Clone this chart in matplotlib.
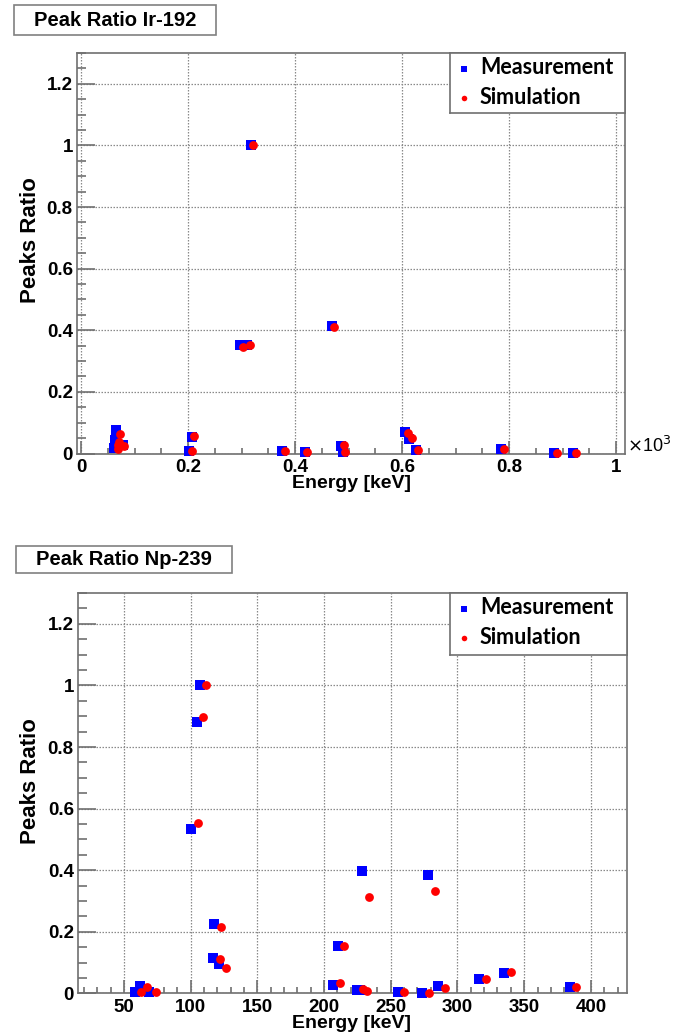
import matplotlib
matplotlib.use("Agg")
import matplotlib.pyplot as plt
from matplotlib.ticker import MultipleLocator, FuncFormatter
from matplotlib.patches import Rectangle
from matplotlib import font_manager

# ---------------- data ----------------
# Ir-192 (energy in 10^3 keV)
ir_meas_E = [0.066, 0.064, 0.062, 0.079, 0.2025, 0.207, 0.297, 0.310, 0.317, 0.375, 0.419,
             0.4685, 0.486, 0.489, 0.6056, 0.6137, 0.626, 0.785, 0.885, 0.920]
ir_meas_R = [0.076, 0.044, 0.017, 0.028, 0.008, 0.055, 0.351, 0.353, 1.000, 0.008, 0.005,
             0.415, 0.024, 0.004, 0.069, 0.046, 0.010, 0.015, 0.003, 0.003]
ir_sim_E = [0.073, 0.071, 0.070, 0.069, 0.081, 0.207, 0.212, 0.302, 0.315, 0.322, 0.381, 0.423,
            0.4735, 0.491, 0.494, 0.6105, 0.618, 0.630, 0.790, 0.8905, 0.925]
ir_sim_R = [0.062, 0.038, 0.028, 0.015, 0.024, 0.008, 0.058, 0.347, 0.352, 1.000, 0.008, 0.005,
            0.409, 0.026, 0.004, 0.068, 0.049, 0.010, 0.015, 0.003, 0.003]

# Np-239 (energy in keV)
np_meas_E = [58.2, 62.0, 68.7, 100.2, 104.5, 107.0, 116.7, 117.7, 121.2, 206.7, 210.2, 224.4,
             227.0, 228.6, 255.2, 273.4, 277.9, 285.7, 316.1, 334.7, 384.1]
np_meas_R = [0.004, 0.024, 0.004, 0.534, 0.880, 1.000, 0.114, 0.224, 0.094, 0.026, 0.153, 0.011,
             0.011, 0.397, 0.004, 0.002, 0.386, 0.023, 0.046, 0.066, 0.020]
np_sim_E = [62.7, 67.5, 73.8, 105.2, 109.5, 111.5, 122.0, 122.7, 126.2, 211.7, 215.1, 229.0,
            232.0, 233.6, 259.9, 278.4, 282.9, 290.9, 321.1, 339.8, 389.1]
np_sim_R = [0.004, 0.021, 0.004, 0.552, 0.897, 1.000, 0.111, 0.215, 0.082, 0.034, 0.155, 0.014,
            0.009, 0.314, 0.004, 0.002, 0.332, 0.018, 0.047, 0.070, 0.022]

titles = ["Peak Ratio Ir-192", "Peak Ratio Np-239"]
xlabel = "Energy [keV]"
ylabel = "Peaks Ratio"
legend_labels = ["Measurement", "Simulation"]

# ---------------- style ----------------
W, H = 683, 1034
fig = plt.figure(figsize=(W / 100, H / 100), dpi=100)

avail = {f.name for f in font_manager.fontManager.ttflist}
narrow = "Liberation Sans Narrow" if "Liberation Sans Narrow" in avail else "Liberation Sans"
tick_font = "Liberation Sans"
leg_font = "Lato"

frame_col = "#707070"
grid_col = "#8a8a8a"


def px_axes(l, t, r, b):
    return [l / W, 1 - b / H, (r - l) / W, (b - t) / H]


def style_axes(ax, xmaj, xmin_, ymaj=0.2, ymin_=0.05):
    for s in ax.spines.values():
        s.set_color(frame_col)
        s.set_linewidth(1.2)
    ax.xaxis.set_major_locator(MultipleLocator(xmaj))
    ax.xaxis.set_minor_locator(MultipleLocator(xmin_))
    ax.yaxis.set_major_locator(MultipleLocator(ymaj))
    ax.yaxis.set_minor_locator(MultipleLocator(ymin_))
    ax.tick_params(axis="both", which="both", direction="in", colors=frame_col,
                   top=False, right=False, width=1.2)
    ax.tick_params(axis="y", which="major", length=13)
    ax.tick_params(axis="y", which="minor", length=6.5)
    ax.tick_params(axis="x", which="major", length=9.5)
    ax.tick_params(axis="x", which="minor", length=4.5)
    ax.tick_params(axis="both", which="major", labelcolor="black", labelsize=13.5)
    ax.tick_params(axis="x", pad=4)
    ax.tick_params(axis="y", pad=3)
    ax.grid(True, which="major", color=grid_col, linestyle=(0, (1.2, 1.2)), linewidth=0.9)
    ax.set_axisbelow(True)


def fmt(v, pos):
    s = ("%.1f" % v).rstrip("0").rstrip(".")
    if s in ("-0",):
        s = "0"
    return s


def draw_panel(rect, mE, mR, sE, sR, xlim, xmaj, xmin_, title_box, title, leg_box, xfmt):
    ax = fig.add_axes(px_axes(*rect))
    ax.scatter(mE, mR, marker="s", s=42, color="#0000ff", linewidths=0, zorder=3,
               label=legend_labels[0], clip_on=False)
    ax.scatter(sE, sR, marker="o", s=40, color="#ff0000", linewidths=0, zorder=4,
               label=legend_labels[1], clip_on=False)
    ax.set_xlim(*xlim)
    ax.set_ylim(0, 1.3)
    style_axes(ax, xmaj, xmin_)
    ax.xaxis.set_major_formatter(FuncFormatter(xfmt))
    ax.yaxis.set_major_formatter(FuncFormatter(fmt))
    for lab in ax.get_xticklabels() + ax.get_yticklabels():
        lab.set_fontfamily(tick_font)
        lab.set_fontweight("bold")

    # legend box
    l, t, r, b = leg_box
    lax = fig.add_axes(px_axes(l, t, r, b))
    lax.set_xlim(l, r)
    lax.set_ylim(b, t)
    lax.set_xticks([])
    lax.set_yticks([])
    lax.set_facecolor("white")
    for s in lax.spines.values():
        s.set_color(frame_col)
        s.set_linewidth(1.2)
    lax.scatter([l + 14], [t + 16], marker="s", s=22, color="#0000ff", linewidths=0)
    lax.scatter([l + 14], [t + 45], marker="o", s=16, color="#ff0000", linewidths=0)
    lax.text(l + 30, t + 15, legend_labels[0], fontsize=15.5, fontweight="bold",
             family=leg_font, va="center", ha="left")
    lax.text(l + 30, t + 45, legend_labels[1], fontsize=15.5, fontweight="bold",
             family=leg_font, va="center", ha="left")

    # title box
    l, t, r, b = title_box
    fig.patches.append(Rectangle((l / W, 1 - b / H), (r - l) / W, (b - t) / H,
                                 transform=fig.transFigure, facecolor="white",
                                 edgecolor="#808080", linewidth=1.2))
    fig.text((l + r) / 2 / W, 1 - (t + b) / 2 / H, title, ha="center", va="center",
             fontsize=14.5, fontweight="bold", family=narrow)
    return ax


ax1 = draw_panel((77, 53, 625, 453.5), ir_meas_E, ir_meas_R, ir_sim_E, ir_sim_R,
                 (-0.0075, 1.0168), 0.2, 0.05, (14, 5, 216, 35), titles[0],
                 (450, 53, 625, 113), fmt)
ax2 = draw_panel((78, 593, 627, 993.4), np_meas_E, np_meas_R, np_sim_E, np_sim_R,
                 (15.5, 427.1), 50, 10, (16, 546, 232, 573), titles[1],
                 (450, 593, 627, 655), lambda v, p: "%d" % round(v))

# axis labels
fig.text(352 / W, 1 - 484 / H, xlabel, ha="center", va="center", fontsize=14,
         fontweight="bold", family=tick_font)
fig.text(352 / W, 1 - 1024 / H, xlabel, ha="center", va="center", fontsize=14,
         fontweight="bold", family=tick_font)
fig.text(31 / W, 1 - 240 / H, ylabel, ha="center", va="center", rotation=90,
         fontsize=16, fontweight="bold", family=tick_font)
fig.text(31 / W, 1 - 781 / H, ylabel, ha="center", va="center", rotation=90,
         fontsize=16, fontweight="bold", family=tick_font)

# x10^3 multiplier
fig.text(627 / W, 1 - 446 / H, r"$\times$10$^{3}$", ha="left", va="center",
         fontsize=13, family=tick_font)

fig.savefig("out.png", dpi=100, facecolor="white")
